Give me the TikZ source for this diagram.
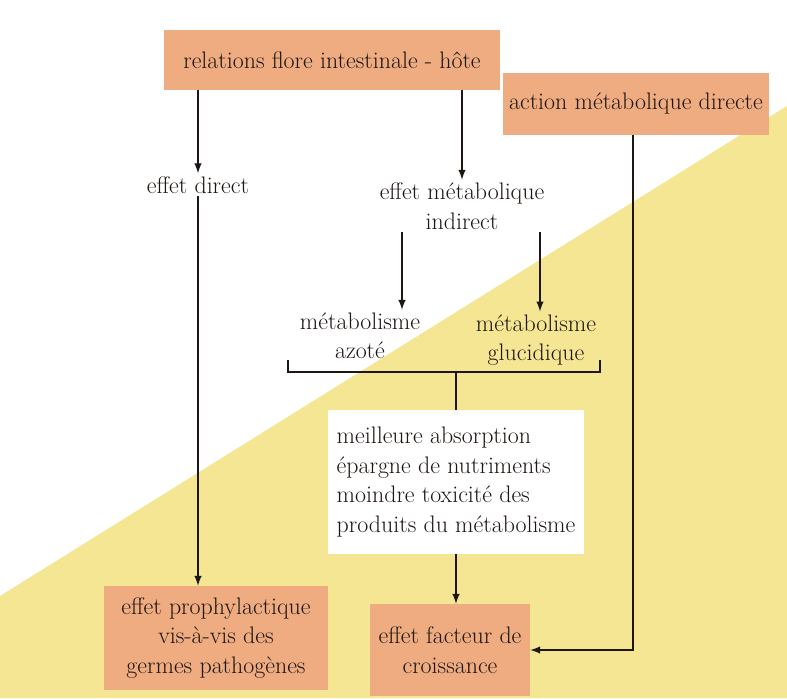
\documentclass[tikz,border=0pt]{standalone}
\usepackage{tikz}
\usetikzlibrary{positioning, calc}

\definecolor{saumon}{RGB}{238,172,128}
\definecolor{jaune}{RGB}{245,230,148}
\definecolor{encre}{RGB}{30,22,18}

\begin{document}
\begin{tikzpicture}[>=latex, font=\fontsize{17}{21}\selectfont, text=encre,
		boite/.style={rectangle, fill=saumon, inner sep=4pt, align=center},
		txt/.style={align=center, inner sep=2pt},
		trait/.style={line width=1.4pt, draw=encre},
		fleche/.style={->, line width=1.4pt, draw=encre}]
		% --- fond : page blanche et triangle jaune ---
		\useasboundingbox (0,0) rectangle (19.675,-17.45);
		\fill[white] (0,0) rectangle (19.675,-17.45);
		\fill[jaune] (0,-14.9) -- (19.675,-2.65) -- (19.675,-17.45) -- (0,-17.45) -- cycle;
		
		% --- Boites du haut ---
		\node[boite, minimum width=8.4cm, minimum height=1.5cm] (relations) at (8.3,-1.5) {relations flore intestinale - hôte};
		\node[boite, minimum width=6.5cm, minimum height=1.55cm] (action) at (15.9,-2.6) {action métabolique directe};
		
		% --- Effets ---
		\node[txt] (direct) at (4.95,-4.62) {effet direct};
		\node[txt] (indirect) at (11.55,-5.15) {effet métabolique\\indirect};
		\node[txt] (azote) at (9.0,-8.4) {métabolisme\\azoté};
		\node[txt] (glucidique) at (13.4,-8.5) {métabolisme\\glucidique};
		
		% --- Bloc blanc au centre ---
		\node[rectangle, fill=white, minimum width=6.4cm, minimum height=3.6cm, align=left] (avantages) at (11.4,-12.05) {meilleure absorption\\épargne de nutriments\\moindre toxicité des\\produits du métabolisme};
		
		% --- Boites du bas ---
		\node[boite, minimum width=5.6cm, minimum height=2.6cm] (prophylaxie) at (5.4,-15.95) {effet prophylactique\\vis-à-vis des\\germes pathogènes};
		\node[boite, minimum width=4cm, minimum height=2.3cm] (croissance) at (11.25,-16.25) {effet facteur de\\croissance};
		
		% --- Fleches ---
		\draw[fleche] (relations.south -| direct) -- (direct.north);
		\draw[fleche] (direct.south) -- (prophylaxie.north -| direct);
		\draw[fleche] (relations.south -| indirect) -- (indirect.north);
		\draw[fleche] ([xshift=-1.5cm]indirect.south) -- ([xshift=-1.5cm]indirect.south |- azote.north);
		\draw[fleche] ([xshift=1.95cm]indirect.south) -- ([xshift=1.95cm]indirect.south |- glucidique.north);
		
		% --- Accolade sous les deux metabolismes ---
		\coordinate (jonction) at (avantages.north |- 0,-9.3);
		\draw[trait] (7.2,-9.0) -- (7.2,-9.3) -- (15.0,-9.3) -- (15.0,-9.0);
		\draw[trait] (jonction) -- (avantages.north);
		\draw[fleche] (avantages.south) -- (croissance.north -| avantages.south);
		
		% --- Action directe vers croissance ---
		\coordinate (depart) at ([xshift=-0.07cm]action.south);
		\draw[fleche] (depart) |- (croissance.east);
		
	\end{tikzpicture}
\end{document}
